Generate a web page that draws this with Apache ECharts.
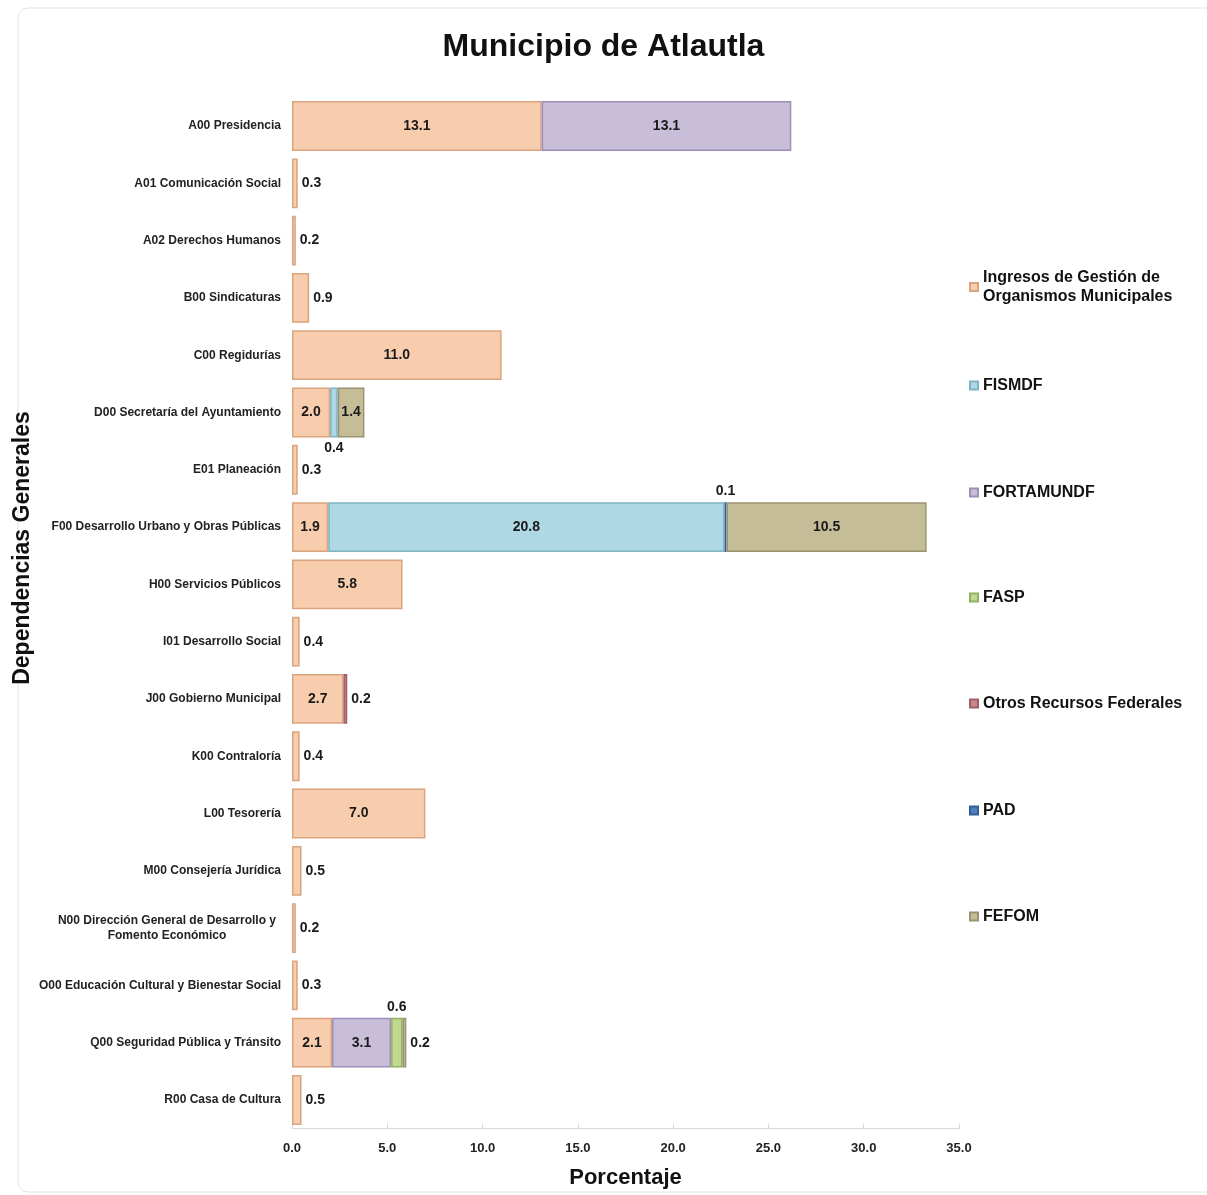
<!DOCTYPE html>
<html>
<head>
<meta charset="utf-8">
<script src="https://cdn.jsdelivr.net/npm/echarts@6/dist/echarts.min.js"></script>
<style>
  html, body { margin: 0; padding: 0; background: #fff; }
  #chart { width: 1207px; height: 1195px; }
</style>
</head>
<body>
<div id="chart"></div>
<script>
// categorías (de arriba hacia abajo)
const categories = [
  'A00 Presidencia',
  'A01 Comunicación Social',
  'A02 Derechos Humanos',
  'B00 Sindicaturas',
  'C00 Regidurías',
  'D00 Secretaría del Ayuntamiento',
  'E01 Planeación',
  'F00 Desarrollo Urbano y Obras Públicas',
  'H00 Servicios Públicos',
  'I01 Desarrollo Social',
  'J00 Gobierno Municipal',
  'K00 Contraloría',
  'L00 Tesorería',
  'M00 Consejería Jurídica',
  'N00 Dirección General de Desarrollo y Fomento Económico',
  'O00 Educación Cultural y Bienestar Social',
  'Q00 Seguridad Pública y Tránsito',
  'R00 Casa de Cultura'
]

// valores por fuente (porcentaje)
const ingresos   = [13.1, 0.3, 0.2, 0.9, 11.0, 2.0, 0.3, 1.9, 5.8, 0.4, 2.7, 0.4, 7.0, 0.5, 0.2, 0.3, 2.1, 0.5]
const fismdf     = [null, null, null, null, null, 0.4, null, 20.8, null, null, null, null, null, null, null, null, null, null]
const fortamundf = [13.1, null, null, null, null, null, null, null, null, null, null, null, null, null, null, null, 3.1, null]
const fasp       = [null, null, null, null, null, null, null, null, null, null, null, null, null, null, null, null, 0.6, null]
const otros      = [null, null, null, null, null, null, null, null, null, null, 0.2, null, null, null, null, null, null, null]
const pad        = [null, null, null, null, null, null, null, 0.1, null, null, null, null, null, null, null, null, null, null]
const fefom      = [null, null, null, null, null, 1.4, null, 10.5, null, null, null, null, null, null, null, null, 0.2, null]

const xTicks = [0, 5, 10, 15, 20, 25, 30, 35]

const seriesDefs = [
  { name: 'Ingresos de Gestión de Organismos Municipales', data: ingresos, color: '#F8CDAE', border: '#D9A47E', small: 'right' },
  { name: 'FISMDF', data: fismdf, color: '#ADD8E4', border: '#7FB3C4', small: 'bottom' },
  { name: 'FORTAMUNDF', data: fortamundf, color: '#C8BEDA', border: '#9D90B8', small: 'top' },
  { name: 'FASP', data: fasp, color: '#BFD98F', border: '#94B061', small: 'top' },
  { name: 'Otros Recursos Federales', data: otros, color: '#C9868C', border: '#A35E65', small: 'right' },
  { name: 'PAD', data: pad, color: '#4F7FBF', border: '#355E96', small: 'top' },
  { name: 'FEFOM', data: fefom, color: '#C4BD97', border: '#9A9370', small: 'right' }
]

const legendCenters = [281, 380, 487, 592, 698, 805, 911]

const font = '"Liberation Sans", Arial, sans-serif'

const chart = echarts.init(document.getElementById('chart'))

const series = seriesDefs.map(s => ({
  name: s.name,
  type: 'bar',
  stack: 'total',
  barCategoryGap: '13%',
  itemStyle: { color: s.color, borderColor: s.border, borderWidth: 1.5 },
  data: s.data.map(v => {
    if (v == null) return '-'
    const small = v < 1
    return {
      value: v,
      label: {
        show: true,
        position: small ? s.small : 'inside',
        distance: small ? 4 : 5,
        formatter: p => p.value.toFixed(1),
        fontFamily: font,
        fontWeight: 'bold',
        fontSize: 14,
        color: '#1a1a1a'
      }
    }
  })
}))

const option = {
  backgroundColor: '#fff',
  animation: false,
  title: {
    text: 'Municipio de Atlautla',
    left: 'center',
    top: 26,
    textStyle: { fontFamily: font, fontWeight: 'bold', fontSize: 32, color: '#111' }
  },
  graphic: [{
    type: 'rect',
    shape: { x: 18, y: 8, width: 1200, height: 1184, r: 10 },
    style: { fill: 'none', stroke: '#e3e3e3', lineWidth: 1 },
    silent: true,
    z: -1
  }, {
    type: 'text',
    x: 23,
    y: 548,
    rotation: Math.PI / 2,
    style: {
      text: 'Dependencias Generales',
      align: 'center',
      verticalAlign: 'middle',
      fontFamily: font,
      fontWeight: 'bold',
      fontSize: 23,
      fill: '#111'
    },
    silent: true
  }],
  legend: seriesDefs.map((s, i) => ({
    data: [s.name],
    orient: 'vertical',
    left: 964,
    top: legendCenters[i] - (i === 0 ? 18 : 9),
    itemWidth: 8,
    itemHeight: 8,
    icon: 'rect',
    selectedMode: false,
    formatter: n => n === seriesDefs[0].name ? 'Ingresos de Gestión de\nOrganismos Municipales' : n,
    textStyle: { fontFamily: font, fontWeight: 'bold', fontSize: 16, color: '#111', lineHeight: 19 }
  })),
  grid: { left: 292, right: 248, top: 97.4, bottom: 66.4, containLabel: false, outerBoundsMode: 'none' },
  xAxis: {
    type: 'value',
    min: xTicks[0],
    max: xTicks[xTicks.length - 1],
    interval: xTicks[1] - xTicks[0],
    name: 'Porcentaje',
    nameLocation: 'middle',
    nameGap: 38,
    nameTextStyle: { fontFamily: font, fontWeight: 'bold', fontSize: 22, color: '#111' },
    axisLine: { show: true, lineStyle: { color: '#d9d9d9' } },
    axisTick: { show: true, inside: true, length: 5, lineStyle: { color: '#d9d9d9' } },
    splitLine: { show: false },
    axisLabel: {
      margin: 13,
      formatter: v => v.toFixed(1),
      fontFamily: font,
      fontWeight: 'bold',
      fontSize: 13,
      color: '#222'
    }
  },
  yAxis: {
    type: 'category',
    inverse: true,
    data: categories,
    axisLine: { show: false },
    axisTick: { show: false },
    axisLabel: {
      margin: 11,
      fontFamily: font,
      fontWeight: 'bold',
      fontSize: 12,
      color: '#222',
      formatter: v => {
        if (v.startsWith('N00')) {
          return '{c|N00 Dirección General de Desarrollo y}\n{c|Fomento Económico}'
        }
        return v
      },
      rich: {
        c: { width: 228, align: 'center', fontFamily: font, fontWeight: 'bold', fontSize: 12, color: '#222', lineHeight: 15 }
      }
    }
  },
  series
}

chart.setOption(option)
</script>
</body>
</html>
